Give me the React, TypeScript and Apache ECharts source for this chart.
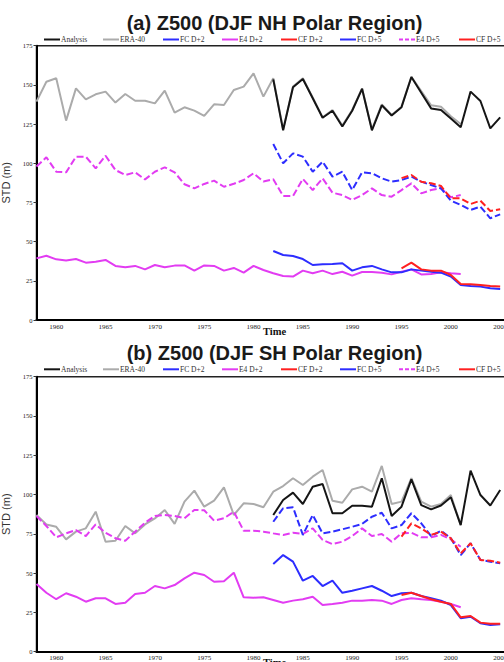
import React, { useEffect, useRef } from "react";
import * as echarts from "echarts";

// ---------- data ----------
const X_LABEL_YEARS = [1960, 1965, 1970, 1975, 1980, 1985, 1990, 1995, 2000, 2005, 2010];
const LEGEND_NAMES = ["Analysis", "ERA-40", "FC D+2", "E4 D+2", "CF D+2", "FC D+5", "E4 D+5", "CF D+5"];
const PANEL_TITLES = ["(a) Z500 (DJF NH Polar Region)", "(b) Z500 (DJF SH Polar Region)"];

const START_ERA = 1958; // ERA-40 and E4 runs
const START_FC = 1982; // Analysis and FC runs
const START_CF = 1995; // CF runs

// Panel (a) NH
const nhEra40 = [139.3, 152, 154.2, 127.2, 147.8, 140.8, 144, 145.7, 138.7, 144.2, 139.9, 139.9, 138.2, 146.3, 132.3, 135.7, 133.6, 130.2, 137.6, 137.2, 146.7, 148.9, 157.4, 142.5, 154.2, 121.6, 148.9, 154.2, 142, 129.3, 134, 124, 134, 147.8, 121.6, 137.6, 130.8, 136.1, 155.2, 146, 137, 136, 130, 125];
const nhAnalysis = [153.5, 121, 148.5, 153.8, 141.5, 129, 133.5, 123.5, 133.5, 147.5, 121, 137, 130.5, 135.8, 155, 145, 135, 134, 128.5, 123, 145.7, 139.7, 122.3, 129.3];
const nhFcD2 = [44, 41.5, 40.8, 38.9, 35.1, 35.5, 35.7, 36.2, 31.5, 33.6, 34.5, 32.3, 30.4, 30.4, 32.3, 31.5, 30.8, 30.2, 27.7, 22.3, 21.7, 21.3, 20.2, 19.8];
const nhE4D2 = [39.3, 41, 38.7, 37.9, 38.9, 36.6, 37.2, 38.3, 34.5, 33.6, 34.5, 32.3, 35.1, 33.6, 34.7, 34.8, 31.5, 34.8, 34.5, 31.5, 33.2, 30.2, 34.5, 31.9, 29.8, 28.1, 27.7, 31.5, 29.8, 31.5, 29.3, 30.8, 28.3, 30.6, 30.6, 30.2, 29.1, 30.8, 32.3, 29.1, 29.3, 30.4, 29.8, 29.3];
const nhCfD2 = [33, 36.6, 32.3, 31.5, 31.5, 28.7, 23, 22.8, 22.3, 21.7, 21.3];
const nhFcD5 = [112.3, 100, 106.3, 104.2, 94.6, 101, 91.5, 94.6, 82.9, 94.2, 93.6, 90.4, 88.3, 89.3, 91.5, 88.3, 86.1, 84, 76.1, 73.4, 70.2, 72.3, 64.9, 67.4];
const nhE4D5 = [97.9, 103.8, 94.6, 94.2, 104.2, 104.2, 96.8, 104.8, 95.7, 92.5, 94.2, 89.7, 94.6, 97.4, 94.2, 86.6, 84, 86.8, 88.9, 85, 86.9, 89.3, 93.6, 88.3, 89.8, 79.1, 79.1, 90, 82.9, 90.4, 81.2, 79.7, 76.6, 79.7, 84, 79.7, 78.7, 82.9, 87.2, 80.8, 82.9, 84, 78.3, 79.7];
const nhCfD5 = [90.5, 92.5, 88.2, 87.2, 85.5, 77.6, 77.6, 74, 76.1, 69.5, 70.6];

// Panel (b) SH
const shEra40 = [87, 81, 79.5, 71.5, 76.4, 78.5, 89.1, 70, 70.6, 80, 75.3, 81, 84.8, 90.2, 81.3, 95.5, 102.5, 92.3, 96.1, 104.6, 87, 94.4, 94, 91.9, 101.8, 105.4, 110.4, 106.1, 111.4, 115.6, 96.1, 94.8, 103.3, 105, 101.8, 118.2, 94, 95.5, 110.4, 95.5, 92.3, 94, 99.7, 80.6];
const shAnalysis = [87, 96.5, 101.2, 94, 105, 106.7, 88.1, 88.1, 92.9, 92.9, 92.3, 110.4, 86.4, 92.3, 109.7, 93.3, 90.6, 93, 98.3, 80.6, 115.2, 99.7, 93, 102.9];
const shFcD2 = [55.8, 61.5, 57.3, 45.2, 48.2, 41.8, 45.2, 37.5, 38.8, 40.3, 41.8, 38.8, 35.4, 37.2, 37.5, 35.4, 34, 32.5, 29.7, 21.3, 22.3, 18.1, 17, 17.4];
const shE4D2 = [43.1, 37.5, 33.4, 37.2, 35, 31.8, 34, 34, 30.4, 31.2, 36.7, 37.5, 41.8, 40.3, 42.4, 46.7, 50.3, 48.8, 44.5, 44.9, 50.3, 34.6, 34.4, 34.6, 32.9, 31.2, 32.5, 33.4, 35, 29.7, 30.4, 31.2, 32.5, 32.5, 32.9, 32.5, 30.4, 32.9, 34, 33.4, 32.9, 31.8, 30.4, 28.3];
const shCfD2 = [36.1, 37.5, 35.4, 33.4, 31.8, 30.4, 21.9, 22.7, 18.5, 17.8, 17.8];
const shFcD5 = [82.7, 91.3, 91.9, 74.3, 87, 75.3, 76.4, 77.9, 79.5, 81.3, 85.9, 88.4, 78.5, 80.6, 88.1, 81.7, 73.6, 77, 72.2, 61.5, 69, 58.4, 57.3, 56.2];
const shE4D5 = [86.4, 80, 72.8, 75.3, 77.4, 73.6, 81, 75.7, 72.2, 70.6, 76.4, 82.1, 86.4, 87, 86.4, 84.9, 90.2, 90, 83.4, 84.9, 89.1, 77, 77, 76.4, 75.3, 74.3, 75.7, 74.9, 78.5, 71.1, 68.5, 70, 73.6, 78.5, 73.6, 74.9, 70, 75.3, 75.7, 72.8, 72.8, 74.3, 71.5, 66.8];
const shCfD5 = [73.2, 81.7, 78.5, 74.3, 76.4, 72.2, 62.6, 69, 58.4, 57.9, 56.6];

// ---------- styles ----------
const STYLE: Record<string, { color: string; dash: number[] | null; legendDash: number[] | null; z: number }> = {
  "ERA-40": { color: "#ababab", dash: null, legendDash: null, z: 2 },
  Analysis: { color: "#151515", dash: null, legendDash: null, z: 3 },
  "E4 D+5": { color: "#e23cf2", dash: [7, 3], legendDash: [4, 2], z: 4 },
  "FC D+5": { color: "#2d2dff", dash: [7, 3], legendDash: null, z: 5 },
  "CF D+5": { color: "#ff2020", dash: [7, 3], legendDash: null, z: 6 },
  "E4 D+2": { color: "#e23cf2", dash: null, legendDash: null, z: 4 },
  "FC D+2": { color: "#2d2dff", dash: null, legendDash: null, z: 5 },
  "CF D+2": { color: "#ff2020", dash: null, legendDash: null, z: 6 },
};

const toPairs = (start: number, vals: number[]) => vals.map((v, i) => [start + i, v]);

const PANELS = [
  {
    top: 45.7,
    height: 274.3,
    titleY: 23,
    legendY: 39.5,
    timeY: 331.5,
    series: [
      ["ERA-40", START_ERA, nhEra40],
      ["Analysis", START_FC, nhAnalysis],
      ["E4 D+5", START_ERA, nhE4D5],
      ["FC D+5", START_FC, nhFcD5],
      ["CF D+5", START_CF, nhCfD5],
      ["E4 D+2", START_ERA, nhE4D2],
      ["FC D+2", START_FC, nhFcD2],
      ["CF D+2", START_CF, nhCfD2],
    ] as [string, number, number[]][],
  },
  {
    top: 376.7,
    height: 275,
    titleY: 353.3,
    legendY: 369.3,
    timeY: 662.5,
    series: [
      ["ERA-40", START_ERA, shEra40],
      ["Analysis", START_FC, shAnalysis],
      ["E4 D+5", START_ERA, shE4D5],
      ["FC D+5", START_FC, shFcD5],
      ["CF D+5", START_CF, shCfD5],
      ["E4 D+2", START_ERA, shE4D2],
      ["FC D+2", START_FC, shFcD2],
      ["CF D+2", START_CF, shCfD2],
    ] as [string, number, number[]][],
  },
];

const LEGEND_X = [44, 103, 163, 222, 281, 340, 399, 459];

export default function App() {
  const ref = useRef<HTMLDivElement>(null);

  useEffect(() => {
    if (!ref.current) return;
    const chart = echarts.init(ref.current, null, { renderer: "svg" });

    const grids: any[] = [];
    const xAxes: any[] = [];
    const yAxes: any[] = [];
    const series: any[] = [];
    const graphics: any[] = [];

    PANELS.forEach((p, pi) => {
      grids.push({
        left: 36.5,
        top: p.top,
        width: 513,
        height: p.height,
        outerBoundsMode: "none",
        containLabel: false,
        show: true,
        borderColor: "#222",
        borderWidth: 1.5,
        backgroundColor: "transparent",
      });
      xAxes.push({
        gridIndex: pi,
        type: "value",
        min: 1958,
        max: 2010,
        axisLine: { show: true, lineStyle: { color: "#000", width: 2 } },
        axisTick: { show: false },
        splitLine: { show: false },
        axisLabel: {
          customValues: X_LABEL_YEARS,
          formatter: (v: number) => String(v),
          fontSize: 7,
          fontFamily: "Liberation Serif",
          color: "#222",
          margin: 3,
        },
      });
      yAxes.push({
        gridIndex: pi,
        type: "value",
        min: 0,
        max: 175,
        interval: 25,
        name: "STD (m)",
        nameLocation: "middle",
        nameGap: 15,
        nameTextStyle: { fontSize: 11, fontFamily: "Liberation Sans", color: "#333" },
        axisLine: { show: true, lineStyle: { color: "#000", width: 2 } },
        axisTick: { show: true, length: 3, lineStyle: { color: "#333", width: 1 } },
        splitLine: { show: false },
        axisLabel: {
          fontSize: 6.5,
          fontFamily: "Liberation Serif",
          color: "#222",
          margin: 4,
        },
      });

      p.series.forEach(([name, start, vals]) => {
        const s = STYLE[name];
        series.push({
          type: "line",
          name,
          xAxisIndex: pi,
          yAxisIndex: pi,
          data: toPairs(start, vals),
          symbol: "none",
          showSymbol: false,
          z: s.z,
          lineStyle: { color: s.color, width: 2, type: s.dash ? s.dash : "solid" },
        });
      });

      // title
      graphics.push({
        type: "text",
        x: 274.5,
        y: p.titleY,
        style: {
          text: PANEL_TITLES[pi],
          font: 'bold 20px "Liberation Sans", Arial, sans-serif',
          fill: "#1a1a1a",
          align: "center",
          verticalAlign: "middle",
        },
      });
      // legend
      LEGEND_NAMES.forEach((name, i) => {
        const s = STYLE[name];
        const lx = LEGEND_X[i];
        graphics.push({
          type: "line",
          shape: { x1: lx, y1: p.legendY, x2: lx + 16, y2: p.legendY },
          style: { stroke: s.color, lineWidth: 2, lineDash: s.legendDash || null },
        });
        graphics.push({
          type: "text",
          x: lx + 17,
          y: p.legendY,
          style: {
            text: name,
            font: '7.5px "Liberation Serif", serif',
            fill: "#333",
            align: "left",
            verticalAlign: "middle",
          },
        });
      });
      // x axis label
      graphics.push({
        type: "text",
        x: 274.5,
        y: p.timeY,
        style: {
          text: "Time",
          font: 'bold 10.5px "Liberation Serif", serif',
          fill: "#111",
          align: "center",
          verticalAlign: "middle",
        },
      });
    });

    chart.setOption({
      animation: false,
      backgroundColor: "#ffffff",
      grid: grids,
      xAxis: xAxes,
      yAxis: yAxes,
      series,
      graphic: graphics,
    });

    return () => chart.dispose();
  }, []);

  return (
    <div
      ref={ref}
      style={{ position: "fixed", left: 0, top: 0, width: 504, height: 662 }}
    />
  );
}
